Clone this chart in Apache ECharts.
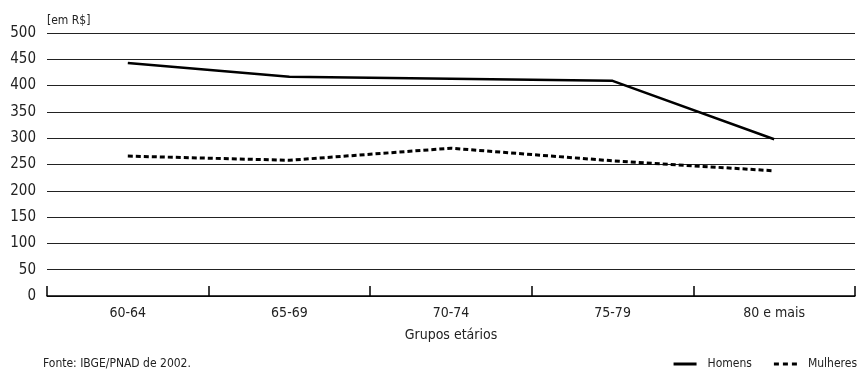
<!DOCTYPE html>
<html><head><meta charset="utf-8">
<script src="https://cdn.jsdelivr.net/npm/echarts@6/dist/echarts.min.js"></script>
<style>html,body{margin:0;padding:0;background:#fff}#c{width:862px;height:371px}</style>
</head><body><div id="c"></div>
<script>
var categories = ['60-64','65-69','70-74','75-79','80 e mais'];
var homens = [443, 417, 413, 409, 298];
var mulheres = [266, 258, 281, 257, 238];
var yTicks = [0,50,100,150,200,250,300,350,400,450,500];
var F = '"Liberation Sans Narrow","DejaVu Sans Condensed","Liberation Sans",sans-serif';
var chart = echarts.init(document.getElementById('c'), null, {renderer:'canvas'});
chart.setOption({
  animation:false,
  backgroundColor:'#fff',
  textStyle:{fontFamily:F, color:'#222'},
  grid:{left:47, right:7, top:33, bottom:75, containLabel:false},
  title:[
    {text:'[em R$]', left:47, top:15, padding:0, textStyle:{fontFamily:F, fontSize:12, fontWeight:'normal', color:'#222'}},
    {text:'Fonte: IBGE/PNAD de 2002.', left:43, top:358, padding:0, textStyle:{fontFamily:F, fontSize:12, fontWeight:'normal', color:'#222'}}
  ],
  legend:{right:5, top:358, padding:0, itemWidth:23, itemHeight:3, itemGap:22,
    textStyle:{fontFamily:F, fontSize:12, color:'#222', padding:[0,0,0,6]},
    data:[{name:'Homens', icon:'path://M0,0h23v3h-23z'},
          {name:'Mulheres', icon:'path://M0,0h5v3h-5z M9,0h5v3h-5z M18,0h5v3h-5z'}]},
  xAxis:{type:'category', data:categories, boundaryGap:true,
    name:'Grupos etários', nameLocation:'middle', nameGap:32,
    nameTextStyle:{fontFamily:F, fontSize:14, color:'#222'},
    axisLine:{lineStyle:{color:'#000', width:1.5}},
    axisTick:{show:true, inside:true, length:10, alignWithLabel:false, lineStyle:{color:'#000', width:1.5}},
    axisLabel:{fontFamily:F, fontSize:14, color:'#222', margin:10},
    splitLine:{show:false}},
  yAxis:{type:'value', min:0, max:500, interval:50,
    axisLine:{show:false}, axisTick:{show:false},
    axisLabel:{fontFamily:F, fontSize:15, color:'#222', margin:11,
      formatter:function(v){return yTicks.indexOf(v)>=0 ? String(v) : '';}},
    splitLine:{show:true, lineStyle:{color:'#222', width:1}}},
  series:[
    {name:'Homens', type:'line', data:homens, symbol:'none', itemStyle:{color:'#000'},
     lineStyle:{color:'#000', width:2.5}},
    {name:'Mulheres', type:'line', data:mulheres, symbol:'none', itemStyle:{color:'#000'},
     lineStyle:{color:'#000', width:3, type:[5,3]}}
  ]
});
</script></body></html>
